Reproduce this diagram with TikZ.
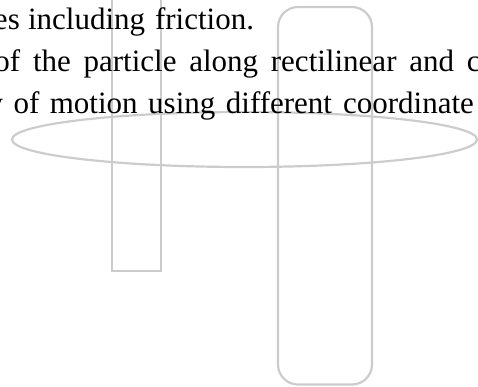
\documentclass[tikz,border=0pt]{standalone}
\usepackage{fontspec}
\setmainfont{Liberation Serif}
\definecolor{shapegray}{RGB}{204,204,204}
\tikzset{
  outline/.style={draw=shapegray, line width=2.2pt},
  word/.style={anchor=base west, inner sep=0pt, outer sep=0pt, font=\fontsize{31}{37}\selectfont, text=black}
}
\begin{document}
\begin{tikzpicture}[x=1pt,y=-1pt]
\useasboundingbox (0,0) rectangle (478,386);
\clip (0,0) rectangle (478,386);
% gray shapes
\draw[outline] (244.5,139.5) ellipse [x radius=232.5, y radius=27.5];
\draw[outline] (112,-5) -- (112,271) -- (161,271) -- (161,-5);
\draw[outline, rounded corners=20pt] (278,7) rectangle (372,384.5);
% line 1
\node[word] (l1a) at (-6,29) {es};
\node[word] (l1b) at (28,29) {including};
\node[word] (l1c) at (155,29) {friction.};
% line 2
\node[word] (l2a) at (-5.5,71) {of};
\node[word] (l2b) at (33,71) {the};
\node[word] (l2c) at (83.6,71) {particle};
\node[word] (l2d) at (189.3,71) {along};
\node[word] (l2e) at (270.9,71) {rectilinear};
\node[word] (l2f) at (409.3,71) {and};
\node[word] (l2g) at (466.8,71) {c};
% line 3
\node[word] (l3a) at (-12.5,113) {y};
\node[word] (l3b) at (13.5,113) {of};
\node[word] (l3c) at (49.8,113) {motion};
\node[word] (l3d) at (148.2,113) {using};
\node[word] (l3e) at (225.9,113) {different};
\node[word] (l3f) at (343.1,113) {coordinate};
\end{tikzpicture}
\end{document}
